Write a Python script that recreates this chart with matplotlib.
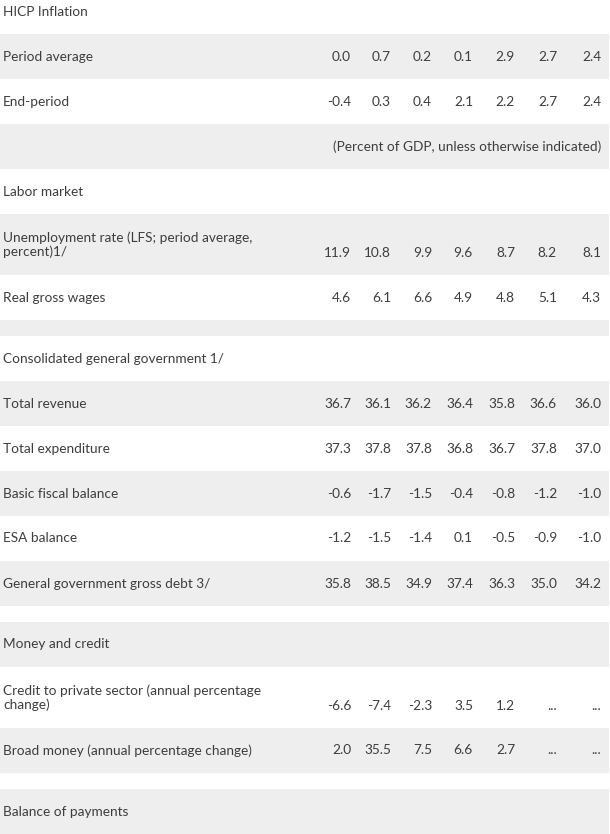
import matplotlib
matplotlib.use("Agg")
import matplotlib.pyplot as plt

plt.rcParams['font.family'] = ['Lato', 'DejaVu Sans']

labels = ["HICP Inflation",
          "Period average",
          "End-period",
          "",
          "Labor market",
          "Unemployment rate (LFS; period average,\npercent)1/",
          "Real gross wages",
          "",
          "Consolidated general government 1/",
          "Total revenue",
          "Total expenditure",
          "Basic fiscal balance",
          "ESA balance",
          "General government gross debt 3/",
          "",
          "Money and credit",
          "Credit to private sector (annual percentage\nchange)",
          "Broad money (annual percentage change)",
          "",
          "Balance of payments"]

period_average = ["0.0", "0.7", "0.2", "0.1", "2.9", "2.7", "2.4"]
end_period = ["-0.4", "0.3", "0.4", "2.1", "2.2", "2.7", "2.4"]
unemployment = ["11.9", "10.8", "9.9", "9.6", "8.7", "8.2", "8.1"]
real_wages = ["4.6", "6.1", "6.6", "4.9", "4.8", "5.1", "4.3"]
total_revenue = ["36.7", "36.1", "36.2", "36.4", "35.8", "36.6", "36.0"]
total_expenditure = ["37.3", "37.8", "37.8", "36.8", "36.7", "37.8", "37.0"]
basic_balance = ["-0.6", "-1.7", "-1.5", "-0.4", "-0.8", "-1.2", "-1.0"]
esa_balance = ["-1.2", "-1.5", "-1.4", "0.1", "-0.5", "-0.9", "-1.0"]
gross_debt = ["35.8", "38.5", "34.9", "37.4", "36.3", "35.0", "34.2"]
credit_private = ["-6.6", "-7.4", "-2.3", "3.5", "1.2", "...", "..."]
broad_money = ["2.0", "35.5", "7.5", "6.6", "2.7", "...", "..."]
units_note = "(Percent of GDP, unless otherwise indicated)"

row_values = {1: period_average, 2: end_period, 5: unemployment, 6: real_wages,
              9: total_revenue, 10: total_expenditure, 11: basic_balance,
              12: esa_balance, 13: gross_debt, 16: credit_private, 17: broad_money}

# layout
row_h = [45, 45, 45, 45, 45, 61, 45, 16, 45, 45, 45, 45, 45, 45, 16, 45, 61, 45, 16, 45]
top = -11
col_right = [351, 391, 432, 473, 515, 557, 601]
gray = "#eeeeee"
txt = "#3d3d3d"
fs = 9.8

fig = plt.figure(figsize=(6.10, 8.34), dpi=100)
ax = fig.add_axes([0, 0, 1, 1])
ax.set_xlim(0, 610)
ax.set_ylim(834, 0)
ax.axis('off')

y = top
for i, lab in enumerate(labels):
    h = row_h[i]
    if i % 2 == 1:
        ax.add_patch(plt.Rectangle((0, y), 609, h, color=gray, lw=0))
    cy = y + h / 2
    if lab:
        ax.text(3, cy, lab, ha='left', va='center', fontsize=fs, color=txt,
                linespacing=1.15)
    if i in row_values:
        vy = cy + 8 if "\n" in lab else cy
        for x, v in zip(col_right, row_values[i]):
            ax.text(x, vy, v, ha='right', va='center', fontsize=fs, color=txt)
    if i == 3:
        ax.text(col_right[-1], cy, units_note, ha='right', va='center',
                fontsize=fs, color=txt)
    y += h

fig.savefig("out.png", dpi=100)
